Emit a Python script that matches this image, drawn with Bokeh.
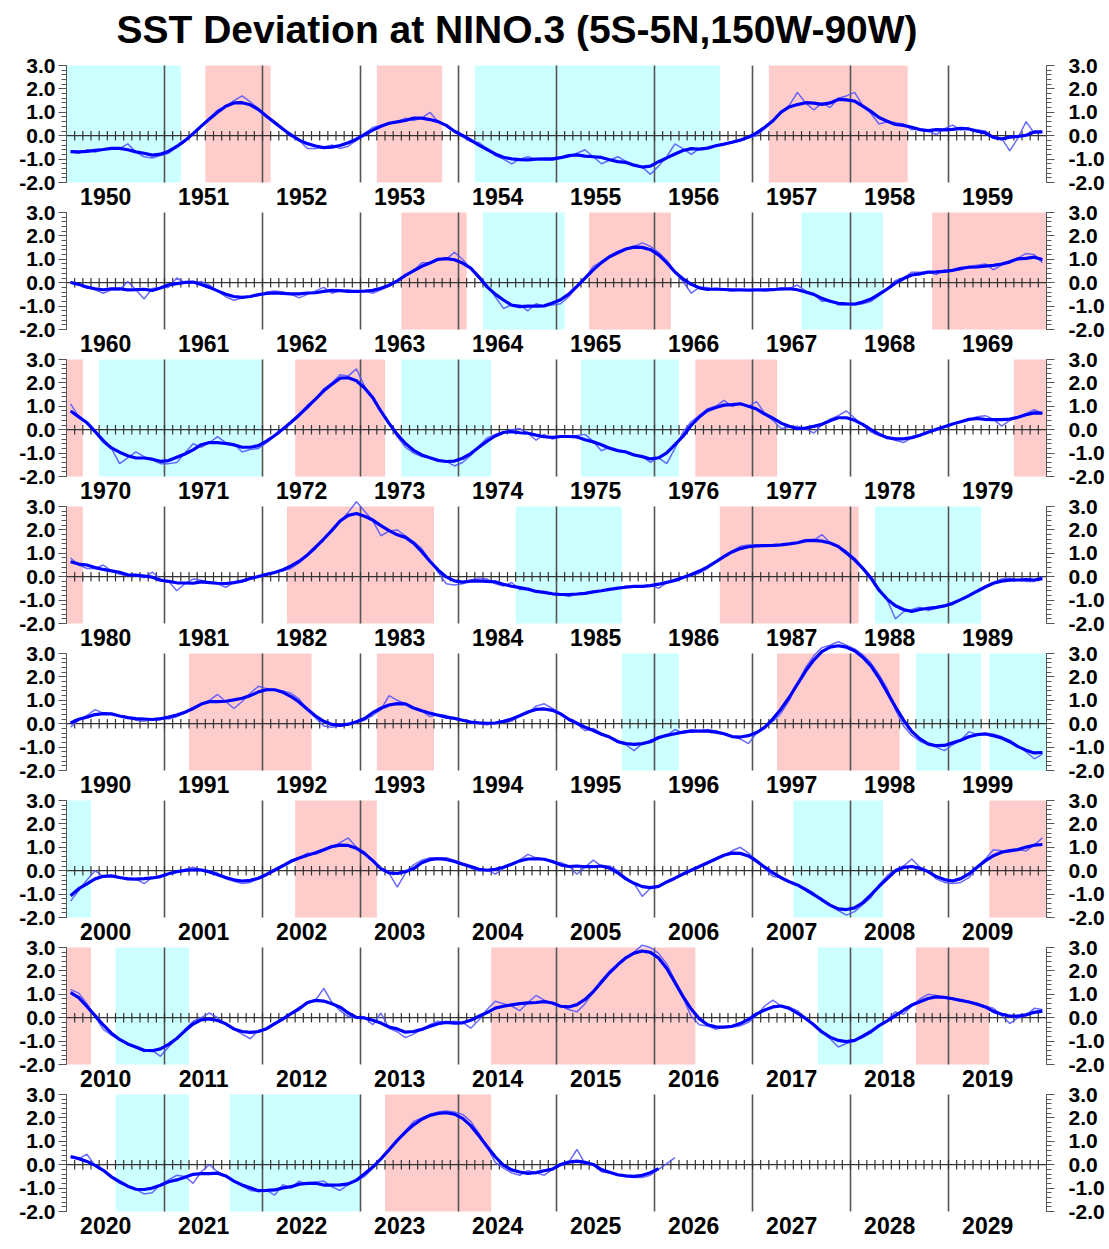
import numpy as np
from bokeh.plotting import figure
from bokeh.models import LinearAxis, FixedTicker, PrintfTickFormatter, Range1d
from bokeh.layouts import column
from bokeh.embed import file_html
from bokeh.resources import INLINE
from bokeh.core.properties import value

TITLE = "SST Deviation at NINO.3 (5S-5N,150W-90W)"
START_YEAR = 1950
DECADES = [1950, 1960, 1970, 1980, 1990, 2000, 2010, 2020]

# Monthly NINO.3 SST deviation (degC), Jan..Dec
sst_1950s = [
    -0.70, -0.75, -0.60, -0.70, -0.60, -0.50, -0.55, -0.35, -0.70, -0.90, -0.95, -0.85,
    -0.75, -0.50, -0.25, 0.05, 0.40, 0.75, 1.10, 1.25, 1.50, 1.70, 1.45, 1.15,
    0.80, 0.50, 0.25, 0.10, -0.20, -0.55, -0.55, -0.50, -0.40, -0.55, -0.45, -0.20,
    0.10, 0.35, 0.45, 0.50, 0.60, 0.75, 0.65, 0.75, 1.00, 0.60, 0.45, 0.20,
    -0.05, -0.25, -0.30, -0.55, -0.85, -1.00, -1.20, -1.00, -0.90, -1.00, -1.05, -1.05,
    -0.95, -0.90, -0.75, -0.60, -0.90, -1.20, -1.05, -0.90, -1.10, -1.30, -1.35, -1.65,
    -1.30, -0.90, -0.35, -0.55, -0.80, -0.55, -0.50, -0.45, -0.35, -0.30, -0.20, -0.10,
    0.00, 0.30, 0.60, 1.00, 1.30, 1.85, 1.40, 1.10, 1.40, 1.20, 1.60, 1.70,
    1.85, 1.30, 0.95, 0.50, 0.60, 0.55, 0.50, 0.25, 0.30, 0.20, 0.05, 0.30,
    0.45, 0.25, 0.30, 0.25, 0.20, -0.05, -0.10, -0.65, -0.10, 0.60, 0.10, 0.15,
]
sst_1960s = [
    0.05, -0.10, -0.15, -0.30, -0.45, -0.30, -0.30, 0.05, -0.30, -0.70, -0.25, -0.20,
    -0.20, 0.20, 0.00, 0.00, 0.05, -0.10, -0.35, -0.60, -0.75, -0.65, -0.60, -0.55,
    -0.40, -0.35, -0.40, -0.50, -0.65, -0.50, -0.35, -0.20, -0.45, -0.35, -0.30, -0.40,
    -0.35, -0.45, -0.30, -0.15, 0.05, 0.30, 0.50, 0.85, 0.85, 1.00, 1.00, 1.30,
    1.00, 0.60, 0.30, -0.10, -0.60, -1.10, -0.95, -0.95, -1.20, -0.90, -1.00, -0.95,
    -0.90, -0.60, -0.20, 0.20, 0.70, 0.90, 1.15, 1.35, 1.45, 1.55, 1.70, 1.55,
    1.30, 0.95, 0.45, 0.05, -0.45, -0.20, -0.20, -0.30, -0.30, -0.35, -0.30, -0.30,
    -0.30, -0.35, -0.30, -0.30, -0.25, -0.10, -0.35, -0.50, -0.80, -0.75, -0.95, -0.95,
    -0.95, -0.90, -0.80, -0.55, -0.30, 0.10, 0.20, 0.45, 0.45, 0.45, 0.35, 0.55,
    0.50, 0.55, 0.70, 0.75, 0.80, 0.55, 0.75, 0.85, 1.05, 1.25, 1.20, 0.85,
]
sst_1970s = [
    1.10, 0.55, 0.30, -0.05, -0.40, -0.80, -1.45, -1.20, -0.95, -1.15, -1.30, -1.45,
    -1.45, -1.40, -1.00, -0.60, -0.75, -0.55, -0.30, -0.55, -0.60, -0.95, -0.85, -0.80,
    -0.55, -0.25, 0.00, 0.35, 0.60, 0.90, 1.30, 1.75, 2.00, 2.35, 2.30, 2.60,
    1.85, 1.35, 0.80, 0.25, -0.30, -0.75, -1.00, -1.15, -1.20, -1.30, -1.35, -1.55,
    -1.40, -1.10, -0.70, -0.35, -0.20, -0.10, 0.00, 0.05, -0.15, -0.45, -0.20, -0.40,
    -0.30, -0.30, -0.25, -0.20, -0.50, -0.90, -0.75, -0.85, -0.95, -1.05, -1.15, -1.40,
    -1.20, -1.45, -0.80, -0.10, 0.35, 0.60, 0.90, 1.00, 1.25, 1.00, 1.10, 1.00,
    1.20, 0.70, 0.40, 0.05, 0.10, 0.15, 0.05, -0.15, 0.20, 0.45, 0.60, 0.80,
    0.50, 0.20, -0.10, -0.25, -0.35, -0.45, -0.55, -0.35, -0.25, -0.10, 0.05, 0.10,
    0.25, 0.35, 0.45, 0.55, 0.60, 0.45, 0.15, 0.40, 0.55, 0.70, 0.85, 0.70,
]
sst_1980s = [
    0.80, 0.50, 0.35, 0.35, 0.50, 0.25, 0.10, 0.05, 0.05, -0.05, 0.20, -0.10,
    -0.20, -0.60, -0.30, -0.10, -0.15, -0.25, -0.30, -0.45, -0.25, -0.20, -0.05, 0.00,
    0.10, 0.20, 0.25, 0.35, 0.60, 0.90, 1.20, 1.60, 2.00, 2.35, 2.75, 3.20,
    2.80, 2.40, 1.75, 1.95, 2.00, 1.75, 1.50, 1.20, 0.70, 0.20, -0.30, -0.35,
    -0.30, -0.15, -0.05, -0.10, -0.30, -0.40, -0.25, -0.55, -0.55, -0.60, -0.70, -0.75,
    -0.75, -0.85, -0.75, -0.70, -0.65, -0.60, -0.55, -0.50, -0.40, -0.40, -0.40, -0.35,
    -0.50, -0.25, -0.10, 0.00, 0.05, 0.15, 0.35, 0.65, 0.90, 1.10, 1.30, 1.35,
    1.35, 1.30, 1.30, 1.35, 1.40, 1.45, 1.50, 1.55, 1.80, 1.45, 1.30, 1.10,
    0.80, 0.40, 0.00, -0.50, -1.00, -1.80, -1.50, -1.40, -1.30, -1.45, -1.35, -1.25,
    -1.20, -1.00, -0.85, -0.60, -0.40, -0.25, -0.10, -0.05, -0.15, -0.20, -0.20, 0.00,
]
sst_1990s = [
    -0.15, 0.15, 0.35, 0.60, 0.45, 0.40, 0.35, 0.30, 0.15, 0.10, 0.20, 0.25,
    0.20, 0.30, 0.45, 0.65, 0.85, 1.00, 1.25, 0.95, 0.65, 0.95, 1.30, 1.60,
    1.50, 1.45, 1.40, 1.30, 1.05, 0.60, 0.25, -0.10, -0.15, -0.10, -0.05, 0.05,
    0.15, 0.35, 0.60, 1.20, 1.00, 0.85, 0.65, 0.55, 0.30, 0.40, 0.35, 0.20,
    0.15, 0.05, 0.00, -0.05, 0.05, 0.05, 0.10, 0.35, 0.45, 0.75, 0.85, 0.65,
    0.45, 0.15, 0.00, -0.30, -0.20, -0.40, -0.55, -0.80, -0.90, -1.15, -0.85, -0.70,
    -0.65, -0.50, -0.25, -0.40, -0.35, -0.30, -0.25, -0.30, -0.40, -0.55, -0.65, -0.85,
    -0.40, -0.10, 0.10, 0.45, 1.00, 1.70, 2.40, 2.90, 3.25, 3.35, 3.50, 3.35,
    3.20, 2.95, 2.60, 2.10, 1.50, 0.60, -0.10, -0.50, -0.75, -0.90, -1.00, -1.15,
    -0.90, -0.70, -0.35, -0.45, -0.40, -0.45, -0.55, -0.70, -0.95, -1.20, -1.50, -1.30,
]
sst_2000s = [
    -1.30, -0.85, -0.40, 0.00, -0.25, -0.25, -0.30, -0.30, -0.35, -0.55, -0.30, -0.20,
    -0.15, -0.05, 0.05, 0.15, 0.05, 0.00, -0.10, -0.35, -0.45, -0.55, -0.50, -0.35,
    -0.20, 0.00, 0.25, 0.45, 0.55, 0.75, 0.70, 0.85, 1.00, 1.20, 1.40, 1.00,
    0.80, 0.40, 0.05, -0.10, -0.70, -0.10, 0.25, 0.45, 0.55, 0.55, 0.55, 0.45,
    0.30, 0.10, 0.00, 0.05, -0.15, 0.10, 0.30, 0.45, 0.70, 0.55, 0.50, 0.35,
    0.35, 0.20, -0.15, 0.15, 0.45, 0.20, 0.20, 0.00, -0.30, -0.55, -1.10, -0.75,
    -0.70, -0.50, -0.30, -0.15, 0.05, 0.20, 0.30, 0.50, 0.65, 0.85, 1.00, 0.75,
    0.45, 0.10, -0.25, -0.30, -0.45, -0.60, -0.75, -0.95, -1.30, -1.50, -1.70, -1.90,
    -1.75, -1.45, -1.15, -0.60, -0.20, 0.05, 0.20, 0.50, 0.15, 0.00, -0.35, -0.50,
    -0.55, -0.50, -0.30, 0.15, 0.50, 0.90, 0.85, 0.80, 0.90, 0.85, 1.10, 1.40,
]
sst_2010s = [
    1.20, 1.05, 0.60, 0.05, -0.50, -0.75, -0.95, -1.15, -1.30, -1.45, -1.40, -1.65,
    -1.25, -0.90, -0.50, -0.15, 0.00, 0.20, 0.00, -0.30, -0.50, -0.70, -0.90, -0.55,
    -0.50, -0.30, -0.10, 0.20, 0.45, 0.60, 0.75, 1.25, 0.65, 0.30, 0.05, 0.00,
    0.00, -0.30, 0.20, -0.45, -0.60, -0.85, -0.70, -0.50, -0.30, -0.15, -0.20, -0.15,
    -0.20, -0.45, -0.10, 0.35, 0.70, 0.60, 0.50, 0.30, 0.65, 0.95, 0.75, 0.60,
    0.50, 0.35, 0.25, 0.60, 1.10, 1.60, 2.00, 2.30, 2.60, 2.80, 3.10, 3.00,
    2.75, 2.30, 1.60, 0.85, 0.05, -0.30, -0.35, -0.50, -0.40, -0.40, -0.35, -0.20,
    0.10, 0.50, 0.75, 0.50, 0.45, 0.30, 0.00, -0.30, -0.60, -0.90, -1.25, -1.10,
    -1.00, -0.85, -0.65, -0.35, -0.10, 0.25, 0.15, 0.50, 0.80, 1.00, 0.95, 0.85,
    0.85, 0.70, 0.70, 0.60, 0.50, 0.40, 0.10, -0.25, 0.00, 0.10, 0.40, 0.35,
]
sst_2020s = [
    0.30, 0.25, 0.45, -0.05, -0.25, -0.55, -0.80, -0.95, -1.05, -1.25, -1.20, -0.85,
    -0.65, -0.45, -0.50, -0.80, -0.30, 0.00, -0.30, -0.50, -0.70, -0.90, -1.10, -1.15,
    -1.10, -1.30, -0.85, -1.00, -0.70, -0.85, -0.75, -0.70, -0.95, -1.10, -0.85, -0.70,
    -0.50, -0.15, 0.25, 0.60, 1.05, 1.45, 1.85, 2.00, 2.15, 2.25, 2.30, 2.25,
    2.15, 1.85, 1.35, 0.75, 0.10, -0.15, -0.35, -0.45, -0.25, -0.35, -0.45, -0.20,
    -0.05, 0.10, 0.65, 0.05, 0.00, -0.30, -0.35, -0.45, -0.50, -0.55, -0.55, -0.45,
    -0.20, 0.05, 0.30,
]

# El Nino (red) and La Nina (cyan) periods, first and last month
el_nino_periods = [
    ("1951-06", "1952-01"), ("1953-03", "1953-10"), ("1957-03", "1958-07"),
    ("1963-06", "1964-01"), ("1965-05", "1966-02"), ("1968-11", "1970-02"),
    ("1972-05", "1973-03"), ("1976-06", "1977-03"), ("1979-09", "1980-02"),
    ("1982-04", "1983-09"), ("1986-09", "1988-01"), ("1991-04", "1992-06"),
    ("1993-03", "1993-09"), ("1997-04", "1998-06"), ("2002-05", "2003-02"),
    ("2009-06", "2010-03"), ("2014-05", "2016-05"), ("2018-09", "2019-05"),
    ("2023-04", "2024-04"),
]
la_nina_periods = [
    ("1950-01", "1951-02"), ("1954-03", "1956-08"), ("1964-04", "1965-01"),
    ("1967-07", "1968-04"), ("1970-05", "1971-12"), ("1973-06", "1974-04"),
    ("1975-04", "1976-03"), ("1984-08", "1985-08"), ("1988-04", "1989-04"),
    ("1995-09", "1996-03"), ("1998-09", "1999-04"), ("1999-06", "2000-03"),
    ("2007-06", "2008-04"), ("2010-07", "2011-03"), ("2017-09", "2018-04"),
    ("2020-07", "2021-03"), ("2021-09", "2022-12"),
]

Y_TICKS = [-2, -1, 0, 1, 2, 3]
Y_MINOR = [-2 + 0.2 * i for i in range(26)]

# ---------------------------------------------------------------- styling
FONT = "Liberation Sans"
RED = "#ffcccc"
CYAN = "#ccffff"
PX_PER_UNIT = 117 / 5.0      # 5 units (-2..3) over 117 px
TOP_IN = 13                  # frame room above 3.0
LABEL_SPACE = 28             # frame room below -2.0 (year labels)
PANEL_STEP = 147             # distance between panels
FRAME_H = TOP_IN + 117 + LABEL_SPACE
OVERLAP = FRAME_H - PANEL_STEP
TITLE_PAD = 52
FIG_W = 1108
BORDER_L = 66
FRAME_W = 980

monthly = np.array(sst_1950s + sst_1960s + sst_1970s + sst_1980s +
                   sst_1990s + sst_2000s + sst_2010s + sst_2020s)
n = len(monthly)
t = START_YEAR + (np.arange(n) + 0.5) / 12.0

# 5-month running mean (thick line)
k = np.ones(5)
smooth = np.convolve(monthly, k, mode="same") / np.convolve(np.ones(n), k, mode="same")
t_s = t[:n - 2]
smooth = smooth[:n - 2]


def ym(s):
    y, m = s.split("-")
    return int(y) + (int(m) - 1) / 12.0


def periods_in(periods, d):
    left, right = [], []
    for a, b in periods:
        x0, x1 = ym(a), ym(b) + 1 / 12.0
        x0, x1 = max(x0, d), min(x1, d + 10)
        if x1 > x0:
            left.append(x0)
            right.append(x1)
    return left, right


figs = []
for i, d in enumerate(DECADES):
    top = TITLE_PAD if i == 0 else 0
    p = figure(width=FIG_W, height=top + FRAME_H, x_range=Range1d(d, d + 10),
               y_range=Range1d(-2.0 - LABEL_SPACE / PX_PER_UNIT, 3.0 + TOP_IN / PX_PER_UNIT),
               output_backend="svg", toolbar_location=None,
               x_axis_location=None, y_axis_location=None,
               min_border_left=BORDER_L, min_border_right=FIG_W - BORDER_L - FRAME_W,
               min_border_top=top, min_border_bottom=0, outline_line_color=None,
               border_fill_color=None, background_fill_color=None)
    p.xgrid.visible = False
    p.ygrid.visible = False
    p.margin = (0, 0, 0, 0) if i == 0 else (-OVERLAP, 0, 0, 0)

    for periods, col in ((el_nino_periods, RED), (la_nina_periods, CYAN)):
        l, r = periods_in(periods, d)
        if l:
            p.quad(left=l, right=r, bottom=-2, top=3, fill_color=col, line_color=None)

    yrs = [d + j for j in range(1, 10)]
    p.segment(x0=yrs, y0=[-2] * 9, x1=yrs, y1=[3] * 9, line_color="#555555", line_width=1.6)

    p.segment(x0=[d], y0=[0], x1=[d + 10], y1=[0], line_color="#333333", line_width=1.3)
    mt = [d + j / 12.0 for j in range(1, 120)]
    p.segment(x0=mt, y0=[-0.2] * len(mt), x1=mt, y1=[0.2] * len(mt),
              line_color="#333333", line_width=1.2)

    m = (t >= d) & (t < d + 10)
    p.line(t[m], monthly[m], line_color="#5050ff", line_width=1.5, line_alpha=0.85)
    ms = (t_s >= d) & (t_s < d + 10)
    p.line(t_s[ms], smooth[ms], line_color="#0000ff", line_width=3.2)

    yl = -2.0 - 14 / PX_PER_UNIT
    p.text(x=[d + j + 0.4 for j in range(10)], y=[yl] * 10,
           text=[str(d + j) for j in range(10)], text_align="center",
           text_baseline="middle", text_font=value(FONT), text_font_style="bold",
           text_font_size="23px", text_color="#000000")

    for side, standoff in (("left", 3), ("right", 14)):
        ax = LinearAxis(ticker=FixedTicker(ticks=Y_TICKS, minor_ticks=Y_MINOR),
                        formatter=PrintfTickFormatter(format="%.1f"), bounds=(-2, 3))
        ax.major_tick_in = 0
        ax.major_tick_out = 8
        ax.minor_tick_in = 0
        ax.minor_tick_out = 5
        ax.axis_line_color = "#555555"
        ax.major_tick_line_color = "#555555"
        ax.minor_tick_line_color = "#555555"
        ax.major_label_standoff = standoff
        ax.major_label_text_font = FONT
        ax.major_label_text_font_style = "bold"
        ax.major_label_text_font_size = "21px"
        ax.major_label_text_color = "#000000"
        p.add_layout(ax, side)

    if i == 0:
        p.title.text = TITLE
        p.title.text_font = FONT
        p.title.text_font_style = "bold"
        p.title.text_font_size = "39px"
        p.title.text_color = "#000000"
        p.title.align = "left"
        p.title.offset = 50
        p.title.standoff = 4
    figs.append(p)

layout = column(*figs, spacing=0)
open("out.html", "w").write(file_html(layout, INLINE))
